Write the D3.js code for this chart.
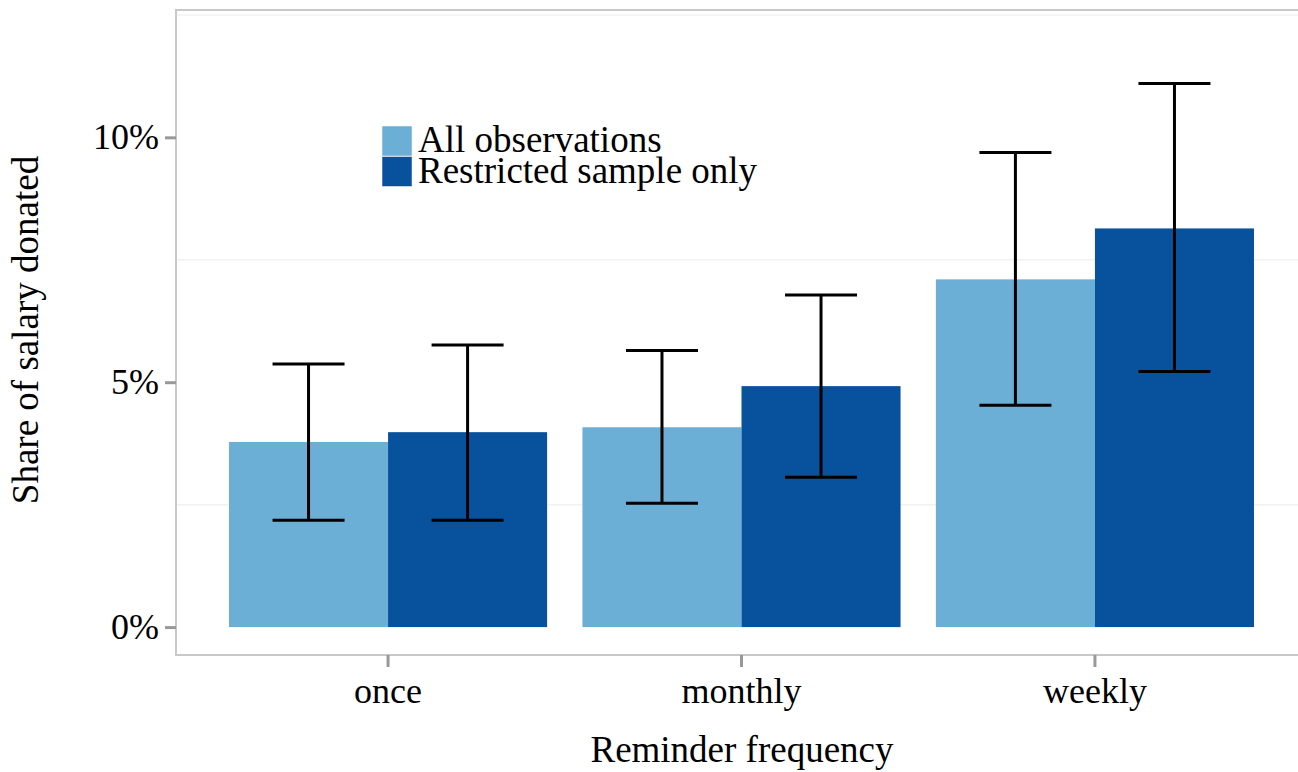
<!DOCTYPE html>
<html>
<head>
<meta charset="utf-8">
<script src="https://cdn.jsdelivr.net/npm/d3@7"></script>
<style>
  body { margin: 0; background: #fff; }
  text { font-family: "Liberation Serif", "Times New Roman", serif; }
</style>
</head>
<body>
<svg id="chart" width="1298" height="772"></svg>
<script>
var frequencies = ["once", "monthly", "weekly"];
var seriesNames = ["All observations", "Restricted sample only"];
var seriesColors = ["#6baed6", "#08519c"];
// shares in percent
var allMean = [3.78, 4.08, 7.10];
var allLow = [2.18, 2.53, 4.53];
var allHigh = [5.37, 5.65, 9.69];
var restMean = [3.98, 4.92, 8.14];
var restLow = [2.18, 3.06, 5.22];
var restHigh = [5.76, 6.78, 11.10];
var yTicks = [0, 5, 10];
var yMinor = [2.5, 7.5, 12.5];

var rows = [];
frequencies.forEach(function(f, i) {
  rows.push({freq: f, series: seriesNames[0], mean: allMean[i], lo: allLow[i], hi: allHigh[i]});
  rows.push({freq: f, series: seriesNames[1], mean: restMean[i], lo: restLow[i], hi: restHigh[i]});
});

var svg = d3.select("#chart");
var pLeft = 176, pTop = 10, pRight = 1307, pBottom = 655;

// ggplot-like discrete expansion: first center at left + 0.6 step
var step = (pRight - pLeft) / 3.2;
var xScale = d3.scaleBand().domain(frequencies)
  .range([pLeft + 0.15 * step, pRight - 0.15 * step])
  .paddingInner(0.1).paddingOuter(0);
var inner = d3.scaleBand().domain(seriesNames).range([0, xScale.bandwidth()]);
var yScale = d3.scaleLinear().domain([-0.57, 12.6]).range([pBottom, pTop]);
var color = d3.scaleOrdinal().domain(seriesNames).range(seriesColors);

// panel
svg.append("g").selectAll("line").data(yMinor).enter().append("line")
  .attr("x1", pLeft).attr("x2", pRight)
  .attr("y1", function(d) { return yScale(d); })
  .attr("y2", function(d) { return yScale(d); })
  .attr("stroke", "#f2f2f2").attr("stroke-width", 1.5);

svg.append("rect").attr("x", pLeft).attr("y", pTop)
  .attr("width", pRight - pLeft).attr("height", pBottom - pTop)
  .attr("fill", "none").attr("stroke", "#c8c8c8").attr("stroke-width", 2);

// bars
svg.append("g").selectAll("rect").data(rows).enter().append("rect")
  .attr("x", function(d) { return xScale(d.freq) + inner(d.series); })
  .attr("width", inner.bandwidth())
  .attr("y", function(d) { return yScale(d.mean); })
  .attr("height", function(d) { return yScale(0) - yScale(d.mean); })
  .attr("fill", function(d) { return color(d.series); });

// error bars
var whisker = 36;
var eb = svg.append("g").attr("stroke", "#000").attr("stroke-width", 3).attr("fill", "none");
rows.forEach(function(d) {
  var cx = xScale(d.freq) + inner(d.series) + inner.bandwidth() / 2;
  eb.append("line").attr("x1", cx).attr("x2", cx)
    .attr("y1", yScale(d.lo)).attr("y2", yScale(d.hi));
  eb.append("line").attr("x1", cx - whisker).attr("x2", cx + whisker)
    .attr("y1", yScale(d.lo)).attr("y2", yScale(d.lo));
  eb.append("line").attr("x1", cx - whisker).attr("x2", cx + whisker)
    .attr("y1", yScale(d.hi)).attr("y2", yScale(d.hi));
});

// y axis
var yAxis = d3.axisLeft(yScale).tickValues(yTicks).tickSize(11).tickPadding(6)
  .tickFormat(function(d) { return d + "%"; });
var gy = svg.append("g").attr("transform", "translate(" + pLeft + ",0)").call(yAxis);
gy.select(".domain").remove();
gy.selectAll(".tick line").attr("stroke", "#999").attr("stroke-width", 3);
gy.selectAll(".tick text").attr("font-size", 36).attr("fill", "#000")
  .attr("font-family", "Liberation Serif, serif");

// x axis
var xAxis = d3.axisBottom(xScale).tickSize(12).tickPadding(10);
var gx = svg.append("g").attr("transform", "translate(0," + pBottom + ")").call(xAxis);
gx.select(".domain").remove();
gx.selectAll(".tick line").attr("stroke", "#999").attr("stroke-width", 3);
gx.selectAll(".tick text").attr("font-size", 36).attr("fill", "#000")
  .attr("font-family", "Liberation Serif, serif");

// axis titles
svg.append("text").attr("x", 742).attr("y", 762)
  .attr("text-anchor", "middle").attr("font-size", 37).text("Reminder frequency");
svg.append("text").attr("transform", "translate(38," + 330 + ") rotate(-90)")
  .attr("text-anchor", "middle").attr("font-size", 37).text("Share of salary donated");

// legend
var lg = svg.append("g").attr("transform", "translate(382,126)");
seriesNames.forEach(function(s, i) {
  lg.append("rect").attr("x", 0).attr("y", i * 30.5).attr("width", 30).attr("height", 30)
    .attr("fill", color(s)).attr("stroke", "#fff").attr("stroke-width", 0.5);
  lg.append("text").attr("x", 36).attr("y", i * 30.5 + 26).attr("font-size", 37)
    .attr("fill", "#000").text(s);
});
</script>
</body>
</html>
